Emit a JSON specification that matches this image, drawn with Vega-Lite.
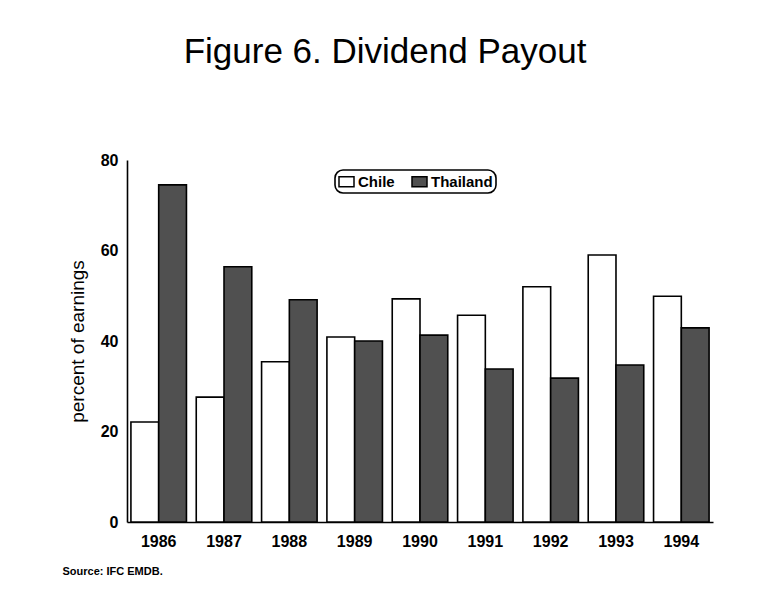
{
  "$schema": "https://vega.github.io/schema/vega-lite/v6.json",
  "autosize": "none",
  "width": 586,
  "height": 362,
  "padding": {"left": 127, "top": 160, "right": 44, "bottom": 80},
  "background": "white",
  "title": {
    "text": "Figure 6. Dividend Payout",
    "font": "Liberation Sans",
    "fontSize": 35,
    "fontWeight": "normal",
    "color": "black",
    "anchor": "middle",
    "dx": -35,
    "offset": 82
  },
  "data": {
    "values": [
      {"year": "1986", "country": "Chile", "value": 22.1},
      {"year": "1986", "country": "Thailand", "value": 74.5},
      {"year": "1987", "country": "Chile", "value": 27.6},
      {"year": "1987", "country": "Thailand", "value": 56.4},
      {"year": "1988", "country": "Chile", "value": 35.4},
      {"year": "1988", "country": "Thailand", "value": 49.1},
      {"year": "1989", "country": "Chile", "value": 40.9},
      {"year": "1989", "country": "Thailand", "value": 40.0},
      {"year": "1990", "country": "Chile", "value": 49.3},
      {"year": "1990", "country": "Thailand", "value": 41.3},
      {"year": "1991", "country": "Chile", "value": 45.7},
      {"year": "1991", "country": "Thailand", "value": 33.8},
      {"year": "1992", "country": "Chile", "value": 52.0},
      {"year": "1992", "country": "Thailand", "value": 31.8},
      {"year": "1993", "country": "Chile", "value": 59.0},
      {"year": "1993", "country": "Thailand", "value": 34.7},
      {"year": "1994", "country": "Chile", "value": 49.9},
      {"year": "1994", "country": "Thailand", "value": 42.9}
    ]
  },
  "mark": {"type": "bar", "stroke": "black", "strokeWidth": 1.6},
  "encoding": {
    "x": {
      "field": "year",
      "type": "nominal",
      "scale": {"paddingInner": 0.15, "paddingOuter": 0.06},
      "axis": {
        "title": "Source: IFC EMDB.",
        "titleFont": "Liberation Sans",
        "titleFontSize": 11,
        "titleFontWeight": "bold",
        "titleColor": "black",
        "titleAlign": "left",
        "titleAnchor": "start",
        "titleX": -65,
        "titleY": 43,
        "labelAngle": 0,
        "labelFont": "Liberation Sans",
        "labelFontSize": 16,
        "labelFontWeight": "bold",
        "labelColor": "black",
        "labelPadding": 11,
        "ticks": false,
        "domain": true,
        "domainColor": "black",
        "domainWidth": 1.6
      }
    },
    "xOffset": {"field": "country", "type": "nominal", "sort": ["Chile", "Thailand"]},
    "y": {
      "field": "value",
      "type": "quantitative",
      "scale": {"domain": [0, 80], "nice": false},
      "axis": {
        "title": "percent of earnings",
        "titleFont": "Liberation Sans",
        "titleFontSize": 19,
        "titleFontWeight": "normal",
        "titleColor": "black",
        "titlePadding": 13,
        "values": [0, 20, 40, 60, 80],
        "labelFont": "Liberation Sans",
        "labelFontSize": 16,
        "labelFontWeight": "bold",
        "labelColor": "black",
        "labelPadding": 9,
        "ticks": false,
        "grid": false,
        "domainColor": "black",
        "domainWidth": 1.6
      }
    },
    "fill": {
      "field": "country",
      "type": "nominal",
      "scale": {"domain": ["Chile", "Thailand"], "range": ["white", "#505050"]},
      "legend": {
        "title": null,
        "orient": "none",
        "legendX": 208,
        "legendY": 10,
        "direction": "horizontal",
        "strokeColor": "black",
        "cornerRadius": 8,
        "fillColor": "white",
        "padding": 3,
        "symbolType": "M-1,-0.67H1V0.67H-1Z",
        "symbolSize": 225,
        "symbolStrokeColor": "black",
        "symbolStrokeWidth": 1.5,
        "labelFont": "Liberation Sans",
        "labelFontSize": 15,
        "labelFontWeight": "bold",
        "labelColor": "black",
        "labelOffset": 3,
        "columnPadding": 14
      }
    }
  },
  "config": {"view": {"stroke": null}, "legend": {"strokeWidth": 1.6}}
}
